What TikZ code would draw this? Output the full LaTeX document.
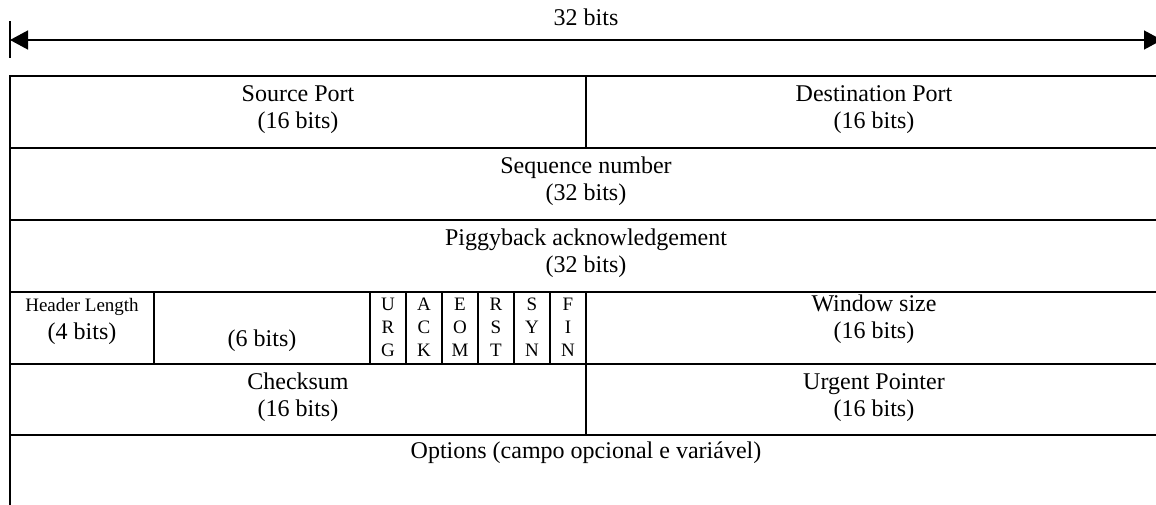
\documentclass[tikz,border=0pt]{standalone}
\usepackage{fontspec}
\setmainfont{Liberation Serif}
\usetikzlibrary{arrows.meta}

\begin{document}
\begin{tikzpicture}[x=0.5pt,y=-0.5pt,
  cell/.style={line width=1pt},
  field/.style={align=center,anchor=base,inner sep=0pt,font=\fontsize{12}{13.5}\selectfont},
  flag/.style={align=center,anchor=base,inner sep=0pt,font=\fontsize{9.5}{11.5}\selectfont}]
  \useasboundingbox (0,0) rectangle (1156,504);
  \clip (0,0) rectangle (1156,504);
  % 32 bits wide
  \draw[line width=1pt] (10,21) -- (10,58);
  \draw[line width=0.7pt,{Triangle[length=9pt,width=9.5pt]}-{Triangle[length=9pt,width=9.5pt]}] (10,40) -- (1162,40);
  \node[field] (width) at (586,25) {32 bits};
  % table
  \draw[cell] (10,520) -- (10,76) -- (1162,76) -- (1162,520);
  \foreach \y in {148,220,292,364,435}
    \draw[cell] (10,\y) -- (1162,\y);
  \draw[cell] (586,76) -- (586,148);
  \draw[cell] (586,292) -- (586,435);
  \draw[cell] (154,292) -- (154,364);
  \foreach \x in {370,406,...,550}
    \draw[cell] (\x,292) -- (\x,364);
  % fields (base = last line)
  \node[field] (src) at (298,128) {Source Port\\(16 bits)};
  \node[field] (dst) at (874,128) {Destination Port\\(16 bits)};
  \node[field] (seq) at (586,200) {Sequence number\\(32 bits)};
  \node[field] (ack) at (586,272) {Piggyback acknowledgement\\(32 bits)};
  \node[flag] (hlen) at (82,311) {Header Length};
  \node[field] (hbits) at (82,339) {(4 bits)};
  \node[field] (resv) at (262,346) {(6 bits)};
  \foreach \x/\f/\n in {388/{U\\R\\G}/urg, 424/{A\\C\\K}/ackf, 460/{E\\O\\M}/eom,
                        496/{R\\S\\T}/rst, 532/{S\\Y\\N}/syn, 568/{F\\I\\N}/fin}
    \node[flag] (\n) at (\x,356) {\f};
  \node[field] (win) at (874,338) {Window size\\(16 bits)};
  \node[field] (chk) at (298,416) {Checksum\\(16 bits)};
  \node[field] (urgp) at (874,416) {Urgent Pointer\\(16 bits)};
  \node[field] (opt) at (586,458) {Options (campo opcional e variável)};
\end{tikzpicture}
\end{document}
